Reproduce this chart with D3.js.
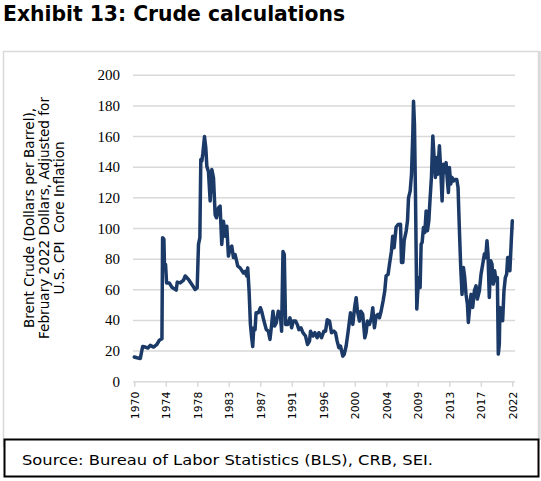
<!DOCTYPE html>
<html>
<head>
<meta charset="utf-8">
<script src="https://cdn.jsdelivr.net/npm/d3@7"></script>
<style>
html,body{margin:0;padding:0;background:#fff;}
svg{display:block;}
</style>
</head>
<body>
<svg id="chart" width="541" height="481"></svg>
<script>
// ---- data (decimal year, Brent crude in Feb-2022 dollars) ----
const years = [
1970.0,1970.37,1970.83,1971.15,1971.51,1971.88,1972.2,1972.66,1973.12,1973.44,1973.81,1973.9,1974.08,1974.17,1974.31,1974.45,1974.82,1975.18,1975.78,1975.92,
1976.33,1976.79,1977.02,1977.48,1977.94,1978.39,1978.67,1978.85,1979.04,1979.17,1979.31,1979.45,1979.68,1979.86,1980.0,1980.23,1980.46,1980.69,1980.92,1981.15,
1981.33,1981.61,1981.83,1982.06,1982.29,1982.52,1982.75,1982.98,1983.21,1983.44,1983.67,1983.9,1984.27,1984.59,1985.05,1985.28,1985.5,1985.64,1985.83,1986.01,
1986.19,1986.33,1986.47,1986.65,1986.79,1987.11,1987.39,1987.56,1987.88,1988.2,1988.48,1988.71,1988.94,1989.12,1989.35,1989.58,1989.85,1990.13,1990.31,1990.5,
1990.68,1990.86,1991.14,1991.46,1991.69,1991.92,1992.24,1992.47,1992.7,1992.97,1993.25,1993.61,1993.89,1994.16,1994.3,1994.62,1994.9,1995.22,1995.45,1995.82,
1996.14,1996.37,1996.6,1996.92,1997.19,1997.51,1997.74,1997.97,1998.2,1998.43,1998.75,1998.94,1999.21,1999.49,1999.81,2000.13,2000.4,2000.59,2000.77,2001.05,
2001.23,2001.5,2001.78,2001.96,2002.14,2002.42,2002.7,2002.88,2003.11,2003.34,2003.61,2003.8,2004.03,2004.3,2004.53,2004.72,2004.99,2005.18,2005.45,2005.63,
2005.82,2006.1,2006.37,2006.71,2006.84,2007.03,2007.21,2007.49,2007.67,2007.81,2008.04,2008.22,2008.4,2008.5,2008.63,2008.77,2008.95,2009.09,2009.23,2009.41,
2009.55,2009.69,2009.87,2010.06,2010.24,2010.42,2010.61,2010.79,2010.97,2011.16,2011.34,2011.52,2011.71,2011.84,2012.07,2012.26,2012.44,2012.62,2012.81,2012.99,
2013.17,2013.31,2013.45,2013.63,2013.82,2014.0,2014.18,2014.46,2014.64,2014.83,2015.01,2015.19,2015.38,2015.56,2015.74,2015.93,2016.06,2016.25,2016.43,2016.66,
2016.89,2017.12,2017.3,2017.58,2017.81,2018.04,2018.27,2018.45,2018.63,2018.77,2018.95,2019.14,2019.32,2019.5,2019.69,2019.87,2020.06,2020.19,2020.33,2020.42,
2020.61,2020.79,2020.97,2021.16,2021.34,2021.48,2021.61,2021.79,2021.98,2022.12
];
const brent = [
16.1,15.6,15.2,23,22.6,22,23.7,22.6,24.3,27,28,94,93,74,76.5,64.5,64.5,61.7,59.8,65,
64.5,66.3,69,66.7,63.5,60.2,61.3,89.6,94,145,144,149,160,152.6,140.7,137,118,138.5,133,109,
107,113.5,114.6,89.6,104.8,95,101.5,82,87.4,88.5,81,83,75.4,74.3,71,72,69,74.3,59,37.4,
28.7,23,35,34,45,45,48.3,46,39.6,34,33,27.6,37.4,46,36.3,38.5,46,44,33,85,
83,37.4,37.4,41.7,35.2,39.6,39.6,37.4,34,35.2,32,29.8,24.3,26.5,33,29.8,32,28.7,32,28.7,
33,33,40.4,39.6,32,33,32,26.5,22.2,23.3,16.7,17.8,23.3,33,45,37.4,49.3,54.8,46,39.6,
46,44,28.7,32,39.6,37.4,41.7,48.3,35.2,42.8,44,41.7,46,52.6,59,69,70,76.5,85,95,
87.4,101,102.6,102.8,77.8,77.8,92,98.5,105,120,124.6,135.4,161.5,183,168,122.4,47.4,59.3,68,61.5,
89.8,91,100.7,97.4,111.5,98.5,105,120,133.3,160.4,146.3,133.3,146.3,135.4,154,137.6,118,142,136.5,143,
131,123.5,139.8,129,133.3,131,132,132,126.7,98.5,74.6,57,74.6,68,57,50.7,38.7,48.5,57,48.5,
59.3,62.6,54,59.3,70.2,76.7,83.3,81,92,83.3,55,79,76.7,63.7,72.4,65.9,68,18,24.6,48.5,
42,39.8,59.3,68,70.2,81,81,72.4,92,105
];
const xTickLabels = ["1970","1974","1978","1983","1987","1991","1996","2000","2004","2009","2013","2017","2022"];
const yTicks = [0,20,40,60,80,100,120,140,160,180,200];
const titleText = "Exhibit 13: Crude calculations";
const yTitleLines = ["Brent Crude (Dollars per Barrel),","February 2022 Dollars, Adjusted for","U.S. CPI  Core Inflation"];
const sourceText = "Source: Bureau of Labor Statistics (BLS), CRB, SEI.";

// ---- drawing ----
const svg = d3.select("#chart");
const sans = "'DejaVu Sans', Verdana, sans-serif";

// outer light frame
svg.append("rect").attr("x",3.5).attr("y",51.5).attr("width",535).attr("height",395)
  .attr("fill","none").attr("stroke","#d9d9d9").attr("stroke-width",1.5);
svg.append("line").attr("x1",539.5).attr("x2",539.5).attr("y1",51).attr("y2",440)
  .attr("stroke","#d9d9d9").attr("stroke-width",2.5);

// title
svg.append("text").attr("x",3).attr("y",21).text(titleText)
  .attr("font-family",sans).attr("font-weight","bold").attr("font-size",21)
  .attr("textLength",342).attr("lengthAdjust","spacingAndGlyphs").attr("fill","#000");

const xStart = 1970, xEnd = 2022.12;
const x = d3.scaleLinear().domain([xStart, xEnd]).range([134.3, 512.3]);
const y = d3.scaleLinear().domain([0, 200]).range([381.7, 75.3]);

// gridlines
svg.append("g").selectAll("line").data(yTicks.filter(d => d > 0)).join("line")
  .attr("x1",133).attr("x2",515)
  .attr("y1",d => y(d)).attr("y2",d => y(d))
  .attr("stroke","#d9d9d9").attr("stroke-width",1.5);

// y axis labels
svg.append("g").selectAll("text").data(yTicks).join("text")
  .attr("x",120).attr("y",d => y(d) + 5)
  .attr("text-anchor","end")
  .attr("font-family","'Liberation Serif', 'Times New Roman', serif")
  .attr("font-size",15).attr("fill","#000")
  .text(d => d);

// x axis
const tickPos = d3.range(xTickLabels.length).map(i => xStart + i*(xEnd - xStart)/(xTickLabels.length-1));
const xAxis = d3.axisBottom(x).tickValues(tickPos).tickSize(5).tickSizeOuter(0)
  .tickFormat((d,i) => xTickLabels[i]);
const gx = svg.append("g").attr("transform",`translate(0,${y(0)})`).call(xAxis);
gx.select(".domain").attr("stroke","#d9d9d9").attr("stroke-width",1.5).attr("d", `M133,0H515`);
gx.selectAll(".tick line").attr("stroke","#d9d9d9").attr("stroke-width",1.5);
gx.selectAll(".tick text")
  .attr("font-family",sans).attr("font-size",10.8).attr("fill","#000")
  .attr("text-anchor","end")
  .attr("transform","rotate(-90)")
  .attr("x",-10).attr("y",0).attr("dy","0.35em");

// line
const line = d3.line().x((d,i) => x(years[i])).y(d => y(d)).curve(d3.curveLinear);
svg.append("path").datum(brent).attr("d",line)
  .attr("fill","none").attr("stroke","#1b3a68").attr("stroke-width",3.5)
  .attr("stroke-linejoin","round").attr("stroke-linecap","round");

// y title
const yt = svg.append("text").attr("transform","translate(0,218) rotate(-90)")
  .attr("text-anchor","middle").attr("font-family",sans).attr("font-size",13.6).attr("fill","#000")
  .style("white-space","pre");
yTitleLines.forEach((t,i) => {
  yt.append("tspan").attr("x",0).attr("y",33.5 + i*15).text(t);
});

// source box
svg.append("rect").attr("x",4.5).attr("y",439.5).attr("width",534).attr("height",37)
  .attr("fill","#fff").attr("stroke","#000").attr("stroke-width",2);
svg.append("text").attr("x",22).attr("y",465).text(sourceText)
  .attr("font-family",sans).attr("font-size",14.5).attr("fill","#000")
  .attr("textLength",411).attr("lengthAdjust","spacingAndGlyphs");
</script>
</body>
</html>
